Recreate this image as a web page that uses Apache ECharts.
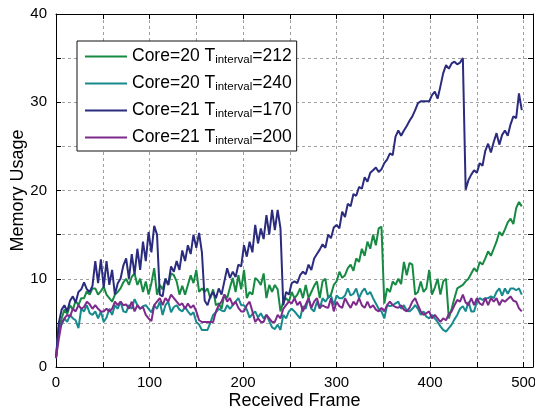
<!DOCTYPE html>
<html>
<head>
<meta charset="utf-8">
<script src="https://cdn.jsdelivr.net/npm/echarts@6/dist/echarts.min.js"></script>
<style>
html,body{margin:0;padding:0;background:#fff;}
#chart{width:535px;height:407px;}
</style>
</head>
<body>
<div id="chart"></div>
<script>
// Sampled every 3 received frames (0,3,...,498)
const FRAME_STEP = 3;
const seriesCores = [20, 20, 21, 21];
const seriesTintervals = [212, 240, 170, 200];
const xTickLabels = [0, 100, 200, 300, 400, 500];
const yTickLabels = [0, 10, 20, 30, 40];

const core20_T212 = [
 1, 4.5, 5.5, 6.5, 6, 7, 6.5, 7.5, 7, 7.8,
 7.8, 8.6, 8.2, 8.9, 8.9, 8.2, 8.6, 9.1, 8.2, 7.8,
 7.4, 8.2, 8.5, 8.9, 9.6, 10, 9.3, 10.2, 10.6, 9.3,
 10, 8.5, 9.7, 8.2, 9.5, 11.2, 8.2, 9.3, 8.8, 10,
 9.3, 10.6, 10.4, 9.7, 8.2, 9.2, 8.2, 9.3, 10.4, 9.5,
 11, 8.5, 8.9, 8.5, 8.9, 7.8, 8.8, 7, 7.2, 6.6,
 8.2, 7.8, 9, 10.1, 8.5, 10.4, 8.8, 11, 7.8, 8.5,
 8.2, 10.1, 9.8, 9.3, 10.6, 7.8, 9.3, 8.5, 9.3, 8.8,
 6.3, 7.4, 7.8, 7.4, 8.5, 7.8, 8.2, 8.9, 7.8, 9.3,
 7.8, 8.5, 9.2, 9.7, 7.8, 9.7, 10, 7.8, 8.2, 9.3,
 9.7, 10.8, 10.1, 10.4, 11.2, 11.6, 10.9, 12.3, 11.9, 13.4,
 12.6, 14.2, 13.4, 15, 13.8, 15.7, 15.9, 7.2, 8.9, 8.5,
 9.7, 9.3, 10, 9.4, 11.9, 10.4, 11.8, 11.6, 8.2, 8.5,
 9.7, 8.5, 8.9, 11, 8.2, 9, 10, 8.2, 9.7, 10,
 5.5, 6.6, 7.8, 8.9, 9.1, 9.3, 9.7, 10, 10.6, 11.2,
 10.8, 11.9, 11.6, 12.3, 13.1, 12.6, 13.4, 14.2, 15.3, 14.9,
 15.6, 16.4, 16.8, 16.2, 18, 18.7, 18.2
];
const core20_T240 = [
 1, 4.4, 4.8, 5.5, 5.1, 5.9, 5.5, 5.3, 4.4, 6.6,
 6.3, 7, 6.1, 5.9, 6.3, 5.5, 6.3, 5.1, 5.6, 6.6,
 5.9, 7, 6.6, 7.4, 6.3, 6.2, 7, 6.6, 7.7, 7,
 6.6, 6.9, 7, 6.6, 6.2, 7, 6.6, 7.4, 5.9, 7,
 7.4, 6.2, 6.8, 7, 6.5, 6.3, 6.8, 6.3, 5.9, 6.2,
 5.1, 4.8, 4.2, 4.2, 4.2, 5, 5.9, 6.2, 6.6, 6.4,
 6.3, 7, 6.6, 7, 7.4, 7.8, 7, 7, 6.5, 5.6,
 6, 6.3, 5.6, 6.1, 5.5, 5.9, 5.2, 4.5, 4.3, 4.8,
 4.2, 5.9, 5.5, 6.3, 6.6, 6.3, 5.9, 5.5, 6.9, 6.6,
 7.8, 6.6, 6.3, 7.4, 6.6, 7.8, 7.4, 7.9, 8.1, 7,
 8.1, 7.8, 7.8, 8.1, 8.9, 8.1, 8.3, 8.9, 7.8, 8.5,
 8.9, 8.2, 8.5, 7.8, 7.2, 6.6, 6.3, 5.5, 7, 6.9,
 7, 7.2, 7.4, 6.6, 7, 6.4, 6.3, 6.6, 7, 6.6,
 5.9, 6.3, 5.7, 5.5, 5.9, 5.5, 5.1, 4.6, 4.2, 4.0,
 4.4, 4.8, 5.4, 5.9, 6.6, 6.9, 6.3, 7.4, 6.3, 6.3,
 7.4, 7.8, 7.6, 7.8, 7.8, 8, 7.8, 8.5, 8.9, 8.1,
 8.9, 8.3, 8.9, 8.9, 8.7, 8.9, 8.2
];
const core21_T170 = [
 1, 5, 6.5, 7, 6.3, 7.5, 8, 7.3, 8.5, 8.8,
 9.6, 8.8, 8.5, 9.2, 12, 9.5, 12.2, 9, 12, 9.3,
 11, 8.2, 9.5, 10, 11.5, 12.3, 10, 12.8, 10.5, 13.4,
 11, 14.2, 12, 15.3, 13, 16, 15, 8.2, 8, 10,
 9.3, 11.4, 10.8, 12, 11, 13.2, 12, 13.8, 12.8, 15,
 13.5, 15.2, 13, 7.5, 7, 8, 8.5, 7.8, 8.9, 8.2,
 9.7, 11.2, 10.1, 10.8, 10.2, 11.6, 11.4, 13.8, 12.5, 14.2,
 13, 16.1, 14, 15.7, 14.5, 17.2, 15, 17.8, 15.5, 17.8,
 15.7, 7, 8.5, 8.2, 9.5, 9.7, 9.5, 10.4, 10.8, 10.5,
 11.6, 11, 12.3, 12.8, 13.3, 13.9, 13.5, 15, 14.6, 15.8,
 16.1, 15.7, 17.6, 17, 18.5, 18.2, 19.6, 19.4, 20.4, 20.2,
 21.5, 21, 22, 22.3, 22.6, 22.1, 22.4, 23.1, 23.5, 24.2,
 24, 26.1, 26.8, 26.2, 26.8, 27.3, 27.9, 28.4, 29.1, 29.9,
 30.1, 30.1, 30.1, 30.1, 30.8, 31.2, 30.4, 31.8, 33.3, 34.2,
 33.8, 34.4, 34.6, 34.3, 34.5, 35, 20.1, 21.2, 21.8, 22.3,
 22, 23.1, 22.8, 24.5, 25.3, 24.3, 25.5, 26.5, 25.2, 26.3,
 26.8, 26.2, 27.5, 28.4, 28.2, 31, 29.1
];
const core21_T200 = [
 1, 3.2, 5, 5.5, 5.9, 5.7, 6.6, 6.3, 7, 6.6,
 6.8, 7.4, 7.1, 6.6, 7, 6.6, 6.3, 6.3, 6.6, 6.3,
 6.6, 7.4, 7, 7.4, 7, 7.1, 6.6, 7.4, 6.3, 7,
 6.6, 6.8, 5.9, 5.5, 5.2, 7, 7.4, 7.8, 7, 7.8,
 7.4, 8.2, 7.8, 7.4, 7, 7.2, 6.6, 7.2, 6.7, 7,
 6.3, 5.3, 5.1, 5.1, 5.1, 5.1, 5.1, 6.3, 7, 7.4,
 8.2, 7.4, 7.8, 7, 7.4, 6.7, 6.3, 6.3, 7, 7.4,
 6.3, 5.1, 5.5, 5.1, 5.1, 5.9, 5.5, 5.1, 5.1, 5.9,
 5.5, 6.6, 7, 7.4, 7.2, 7.8, 7, 7.4, 6.3, 7.1,
 7.8, 6.7, 7.4, 7.8, 6.7, 7, 6.8, 6.7, 7.8, 6.3,
 7.4, 6.9, 6.7, 7.8, 7.2, 6.7, 7.4, 7, 7.8, 7,
 6.7, 7.4, 6.7, 7, 6.5, 6.3, 6.7, 6.3, 7, 7.4,
 7, 6.8, 6.7, 7, 6.5, 6.3, 6.7, 7.4, 7.8, 7,
 6.3, 5.9, 6.1, 6.3, 5.5, 5.9, 5.5, 5.1, 5.5, 5.3,
 6, 6.3, 7, 7.6, 7.4, 8.2, 7.3, 7, 7.8, 7,
 7.8, 7.2, 7, 7.8, 7, 7.8, 7.4, 7.8, 7, 7.6,
 7.4, 7.7, 8, 7.5, 7.4, 6.65, 6.3
];

const allValues = [core20_T212, core20_T240, core21_T170, core21_T200];
const colors = ['#168a42', '#168a8c', '#2b2c7e', '#7d2a8c'];
const FONT = '"Liberation Sans", Arial, sans-serif';

const seriesNames = seriesCores.map((c, i) => 'Core=' + c + ' T_interval=' + seriesTintervals[i]);

const chart = echarts.init(document.getElementById('chart'), null, {renderer: 'canvas'});

const series = allValues.map((vals, i) => ({
  name: seriesNames[i],
  type: 'line',
  xAxisIndex: 0,
  yAxisIndex: 0,
  symbol: 'none',
  showSymbol: false,
  color: colors[i],
  lineStyle: {color: colors[i], width: 2},
  itemStyle: {color: colors[i]},
  data: vals.map((v, k) => [k * FRAME_STEP, v]),
  animation: false
}));

const gridLine = {show: true, lineStyle: {color: '#a0a0a0', type: [3, 3], width: 1}};

chart.setOption({
  animation: false,
  backgroundColor: '#fff',
  color: colors,
  textStyle: {fontFamily: FONT},
  grid: {left: 56, right: 2, top: 14, bottom: 40, containLabel: false, outerBoundsMode: 'none'},
  legend: {
    show: true,
    left: 77, top: 41,
    orient: 'vertical',
    backgroundColor: '#fff',
    borderColor: '#111',
    borderWidth: 1,
    padding: [6.5, 5, 4.5, 8],
    itemWidth: 42,
    itemHeight: 2,
    itemGap: 9,
    icon: 'rect',
    data: seriesNames,
    formatter: function (name) {
      const i = seriesNames.indexOf(name);
      return '{m|Core=' + seriesCores[i] + ' T}{s|interval}{m|=' + seriesTintervals[i] + '}';
    },
    textStyle: {
      fontFamily: FONT,
      fontSize: 17.5,
      color: '#000',
      rich: {
        m: {fontSize: 17.5, color: '#000', fontFamily: FONT, lineHeight: 18, verticalAlign: 'middle'},
        s: {fontSize: 11.5, color: '#000', fontFamily: FONT, lineHeight: 4, verticalAlign: 'bottom'}
      }
    }
  },
  xAxis: [{
    type: 'value', min: 0, max: 510, interval: 50,
    name: 'Received Frame', nameLocation: 'middle', nameGap: 25, nameMoveOverlap: false,
    nameTextStyle: {fontSize: 18, color: '#000', fontFamily: FONT},
    axisLine: {show: true, onZero: false, lineStyle: {color: '#000', width: 1}},
    axisTick: {show: true, inside: true, length: 5, lineStyle: {color: '#000'}},
    axisLabel: {
      fontSize: 15, color: '#000', margin: 8, fontFamily: FONT,
      formatter: v => (xTickLabels.indexOf(v) >= 0 ? String(v) : '')
    },
    splitLine: gridLine
  }, {
    type: 'value', min: 0, max: 510, interval: 50, position: 'top',
    axisLine: {show: true, onZero: false, lineStyle: {color: '#000', width: 1}},
    axisTick: {show: true, inside: true, length: 5, lineStyle: {color: '#000'}},
    axisLabel: {show: false}, splitLine: {show: false}
  }],
  yAxis: [{
    type: 'value', min: 0, max: 40, interval: 5,
    name: 'Memory Usage', nameLocation: 'middle', nameGap: 29, nameMoveOverlap: false,
    nameTextStyle: {fontSize: 18, color: '#000', fontFamily: FONT},
    axisLine: {show: true, onZero: false, lineStyle: {color: '#000', width: 1}},
    axisTick: {show: true, inside: true, length: 5, lineStyle: {color: '#000'}},
    axisLabel: {
      fontSize: 15, color: '#000', margin: 9, fontFamily: FONT,
      formatter: v => (yTickLabels.indexOf(v) >= 0 ? String(v) : '')
    },
    splitLine: gridLine
  }, {
    type: 'value', min: 0, max: 40, interval: 5, position: 'right',
    axisLine: {show: true, onZero: false, lineStyle: {color: '#000', width: 1}},
    axisTick: {show: true, inside: true, length: 5, lineStyle: {color: '#000'}},
    axisLabel: {show: false}, splitLine: {show: false}
  }],
  series: series
});
</script>
</body>
</html>
